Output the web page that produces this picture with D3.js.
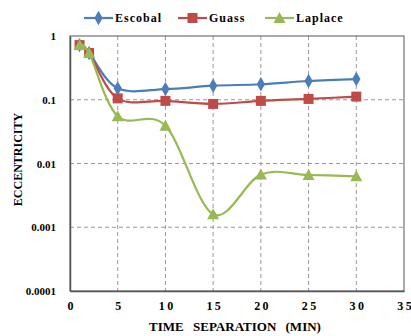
<!DOCTYPE html>
<html>
<head>
<meta charset="utf-8">
<script src="https://cdn.jsdelivr.net/npm/d3@7"></script>
<style>
body { margin: 0; background: #fff; }
svg text { font-family: "Liberation Serif", "DejaVu Serif", serif; font-weight: bold; fill: #000; }
</style>
</head>
<body>
<div id="chart"></div>
<script>
const times = [1, 2, 5, 10, 15, 20, 25, 30];
const escobal = [0.72, 0.54, 0.151, 0.147, 0.166, 0.175, 0.197, 0.211];
const guass = [0.72, 0.54, 0.105, 0.096, 0.086, 0.096, 0.103, 0.112];
const laplace = [0.72, 0.54, 0.055, 0.039, 0.0016, 0.0067, 0.0066, 0.0063];
const xTicks = [0, 5, 10, 15, 20, 25, 30, 35];
const yTicks = [0.0001, 0.001, 0.01, 0.1, 1];

const series = [
    { name: "Escobal", values: escobal, color: "#4a7ebb", marker: "diamond" },
    { name: "Guass", values: guass, color: "#be4b48", marker: "square" },
    { name: "Laplace", values: laplace, color: "#98b954", marker: "triangle" }
];

const W = 411, H = 336;
const margin = { top: 36, right: 7, bottom: 45, left: 70 };
const width = W - margin.left - margin.right;
const height = H - margin.top - margin.bottom;

const svg = d3.select("#chart").append("svg").attr("width", W).attr("height", H);
const g = svg.append("g").attr("transform", `translate(${margin.left},${margin.top})`);

const x = d3.scaleLinear().domain([0, 35]).range([0, width]);
const y = d3.scaleLog().domain([0.0001, 1]).range([height, 0]);

// grid
g.selectAll(".vgrid").data(xTicks.slice(1, -1)).enter().append("line")
    .attr("x1", d => x(d)).attr("x2", d => x(d))
    .attr("y1", 0).attr("y2", height)
    .attr("stroke", "#999").attr("stroke-dasharray", "4,3");
g.selectAll(".hgrid").data(yTicks.slice(1, -1)).enter().append("line")
    .attr("x1", 0).attr("x2", width)
    .attr("y1", d => y(d)).attr("y2", d => y(d))
    .attr("stroke", "#999").attr("stroke-dasharray", "4,3");

// frame
g.append("rect").attr("width", width).attr("height", height)
    .attr("fill", "none").attr("stroke", "#555").attr("stroke-width", 1);

// axes
const xAxis = g.append("g").attr("transform", `translate(0,${height})`)
    .call(d3.axisBottom(x).tickValues(xTicks).tickSize(0).tickPadding(10).tickFormat(d => String(d).split("").join("\u2009")));
const yAxis = g.append("g")
    .call(d3.axisLeft(y).tickValues(yTicks).tickSize(0).tickPadding(14).tickFormat(d => d >= 1 ? "1" : d3.format("")(d)));
[xAxis, yAxis].forEach(a => {
    a.select(".domain").attr("stroke", "#555").attr("stroke-width", 1.5);
    a.selectAll("text").attr("font-size", 12).attr("font-family", null);
});
yAxis.selectAll("text").attr("font-size", 11);

// lines
const line = d3.line()
    .x((d, i) => x(times[i]))
    .y(d => y(d))
    .curve(d3.curveCatmullRom.alpha(0));

function marker(sel, type, color) {
    if (type === "diamond") {
        sel.append("path").attr("d", d3.symbol(d3.symbolDiamond, 60)()).attr("fill", color);
    } else if (type === "square") {
        sel.append("rect").attr("x", -5).attr("y", -5).attr("width", 10).attr("height", 10).attr("fill", color);
    } else {
        sel.append("path").attr("d", "M0,-6L6,5L-6,5Z").attr("fill", color);
    }
}

series.forEach(s => {
    g.append("path").datum(s.values)
        .attr("fill", "none").attr("stroke", s.color).attr("stroke-width", 2.2)
        .attr("d", line);
    s.values.forEach((v, i) => {
        const m = g.append("g").attr("transform", `translate(${x(times[i])},${y(v)})`);
        marker(m, s.marker, s.color);
    });
});

// legend
const legendX = [84, 178, 265];
series.forEach((s, i) => {
    const lg = svg.append("g").attr("transform", `translate(${legendX[i]},18)`);
    lg.append("line").attr("x1", 0).attr("x2", 29).attr("stroke", s.color).attr("stroke-width", 2.2);
    const m = lg.append("g").attr("transform", "translate(14.5,0)");
    marker(m, s.marker, s.color);
    lg.append("text").attr("x", 31).attr("y", 4).attr("font-size", 12)
        .attr("letter-spacing", 1).text(s.name);
});

// axis titles
svg.append("text").attr("x", margin.left + width / 2 - 2).attr("y", 331)
    .attr("text-anchor", "middle").attr("font-size", 13).attr("word-spacing", 6)
    .text("TIME SEPARATION (MIN)");
svg.append("text").attr("transform", `translate(22,${margin.top + height / 2 - 4}) rotate(-90)`)
    .attr("text-anchor", "middle").attr("font-size", 12)
    .text("ECCENTRICITY");
</script>
</body>
</html>
